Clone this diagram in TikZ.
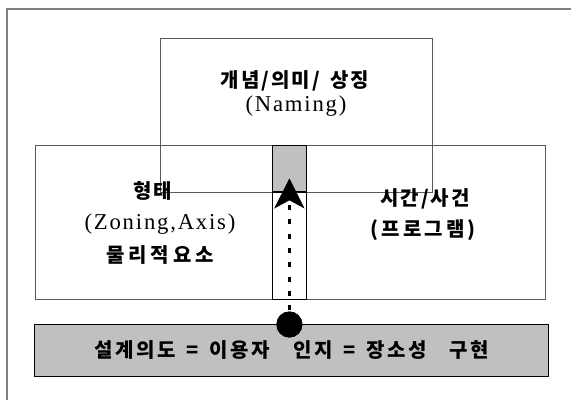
\documentclass[tikz,border=0pt]{standalone}
\usepackage{fontspec}
\setmainfont{Liberation Serif}[LetterSpace=8]
\newfontfamily\cjk{Noto Sans CJK KR}[LetterSpace=8]
\usetikzlibrary{arrows.meta}
\definecolor{boxgray}{RGB}{192,192,192}
\definecolor{linegray}{RGB}{90,90,90}
\definecolor{framegray}{RGB}{128,128,128}
\newcommand{\ssp}{\hspace{1.5pt}}
\newcommand{\wsp}{\hspace{8pt}}
\newcommand{\wwsp}{\hspace{17pt}}
\begin{document}
\begin{tikzpicture}[x=0.75pt,y=-0.75pt,
  boxline/.style={draw=linegray, line width=0.75pt, inner sep=0pt, outer sep=0pt},
  darkbox/.style={draw=black, line width=0.75pt, inner sep=0pt, outer sep=0pt},
  kor/.style={font=\cjk\bfseries\fontsize{15}{18}\selectfont\addfontfeature{LetterSpace=#1}, inner sep=0pt},
  kor/.default=8,
  lat/.style={font=\fontsize{17}{20}\selectfont, inner sep=0pt}]
\useasboundingbox (0,0) rectangle (571,400);
\draw[framegray, line width=1.2pt] (7,400) -- (7,9) -- (571,9);
% boxes
\node[boxline, minimum width=382.5pt, minimum height=115.6pt] (mid) at (290,222.4) {};
\node[boxline, minimum width=204pt, minimum height=115pt] (top) at (296.7,115.35) {};
\node[darkbox, fill=boxgray, minimum width=25.5pt, minimum height=35pt] (stripg) at (289.4,168.65) {};
\node[darkbox, fill=white, minimum width=25.5pt, minimum height=80.6pt] (stripw) at (289.4,245.75) {};
\node[darkbox, fill=boxgray, minimum width=385pt, minimum height=39pt, kor=14] (base) at (291.65,350)
  {설계의도\wsp=\wsp 이용자\wwsp 인지\wsp=\wsp 장소성\wwsp 구현};
% texts
\node[kor=10] (tA) at (295,81) {개념\ssp/\ssp 의미\ssp/\hspace{8pt}상징};
\node[lat] (tB) at (296,106) {(Naming)};
\node[kor] (lA) at (153,191) {형태};
\node[lat] (lB) at (160,224) {(Zoning,Axis)};
\node[kor=20] (lC) at (160,255) {물리적요소};
\node[kor=10] (rA) at (425,199) {시간\ssp/\ssp 사건};
\node[kor=16] (rB) at (423,230) {(프로그램)};
% arrow
\coordinate (tip) at (289.4,178.3);
\node[circle, fill=black, minimum size=19.5pt, inner sep=0pt] (dot) at (289.4,324.5) {};
\draw[line width=2.5pt, dash pattern=on 3.75pt off 7pt,
  -{Stealth[length=22.5pt,width=22.5pt,inset=6pt]}] (dot.center) -- (tip);
\node[circle, fill=black, minimum size=19.5pt, inner sep=0pt] at (dot) {};
\end{tikzpicture}
\end{document}
